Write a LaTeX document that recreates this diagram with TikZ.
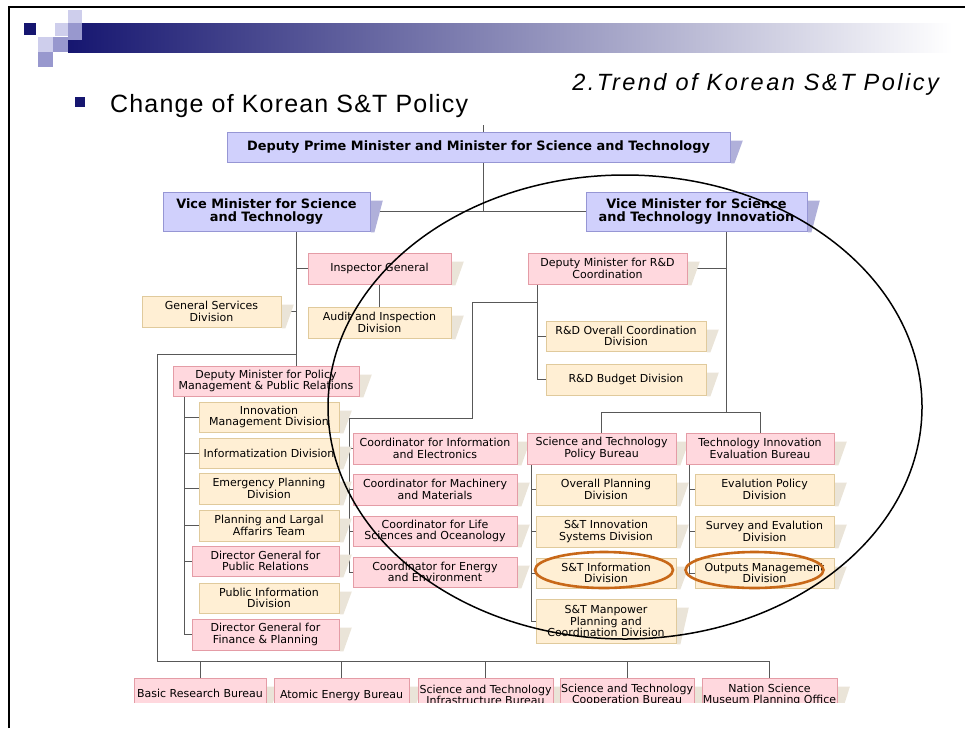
\documentclass[tikz,border=0pt]{standalone}
\usepackage{fontspec}
\setmainfont{Liberation Sans}
\newfontfamily\dejavu{DejaVu Sans}
\newfontfamily\gulim{Liberation Sans}[LetterSpace=4.7]
\newfontfamily\gulimwide{Liberation Sans}[LetterSpace=10.6]
\usetikzlibrary{backgrounds}
\definecolor{orgnavy}{RGB}{22, 22, 112}
\definecolor{orgfade}{RGB}{168, 168, 198}
\definecolor{orglav}{RGB}{206, 206, 236}
\definecolor{orgmid}{RGB}{152, 152, 206}
\definecolor{orgblue}{RGB}{208, 208, 252}
\definecolor{orgblueline}{RGB}{150, 150, 212}
\definecolor{orgblueshadow}{RGB}{176, 176, 218}
\definecolor{orgpink}{RGB}{255, 216, 222}
\definecolor{orgpinkline}{RGB}{228, 156, 166}
\definecolor{orgcream}{RGB}{255, 239, 212}
\definecolor{orgcreamline}{RGB}{224, 202, 156}
\definecolor{orgshadow}{RGB}{234, 228, 216}
\definecolor{orglink}{RGB}{88, 88, 88}
\definecolor{orghilite}{RGB}{200, 104, 24}

\begin{document}
\begin{tikzpicture}[x=1pt,y=-1pt,
  orgbox/.style={draw, line width=0.8pt, inner sep=1pt, align=center,
    font=\dejavu\fontsize{11}{11.5}\selectfont},
  shadowed/.style={append after command={\pgfextra{\fill[#1]
    ([xshift=0.4pt,yshift=-9pt]\tikzlastnode.north east) -- ++(12pt,0pt)
    -- ([xshift=4pt,yshift=-1pt]\tikzlastnode.south east)
    -- ([xshift=0.4pt,yshift=-1pt]\tikzlastnode.south east) -- cycle;}}},
  bluebox/.style={orgbox, fill=orgblue, draw=orgblueline, shadowed=orgblueshadow,
    font=\dejavu\bfseries\fontsize{12.9}{13}\selectfont},
  pinkbox/.style={orgbox, fill=orgpink, draw=orgpinkline, shadowed=orgshadow},
  creambox/.style={orgbox, fill=orgcream, draw=orgcreamline, shadowed=orgshadow},
  sz/.style 2 args={minimum width=#1pt, minimum height=#2pt},
  link/.style={draw=orglink, line width=0.9pt},
  hilite/.style={draw=orghilite, line width=2.6pt}]
\useasboundingbox (0,0) rectangle (965,728);

\shade[left color=orgnavy, middle color=orgfade, right color=white] (68,23) rectangle (952,52);
\fill[orglav] (68,10) rectangle (82,23);
\fill[orglav] (55,23) rectangle (68,36);
\fill[orgmid] (68,23) rectangle (82,40);
\fill[orgnavy] (24,23) rectangle (36,35);
\fill[orglav] (38,37) rectangle (53,52);
\fill[orgmid] (53,37) rectangle (68,52);
\fill[orgmid] (38,52) rectangle (53,67);
\draw[line width=2pt] (9,728) -- (9,7) -- (965,7);

\fill[orgnavy] (75,97) rectangle (85,107);
\node[anchor=west, inner sep=0pt, font=\gulim\fontsize{25}{26}\selectfont] (title) at (110,106) {Change of Korean S\&T Policy};
\node[anchor=east, inner sep=0pt, font=\gulimwide\itshape\fontsize{23.5}{24}\selectfont] (trend) at (939,84) {2.Trend of Korean S\&T Policy};

\node[bluebox, sz={503}{30}] (dpm) at (478.5,147) {Deputy Prime Minister and Minister for Science and Technology};
\node[bluebox, sz={207}{39}] (vmA) at (266.5,211.5) {Vice Minister for Science\\and Technology};
\node[bluebox, sz={221}{39}] (vmB) at (696.5,211.5) {Vice Minister for Science\\and Technology Innovation};

\node[pinkbox, sz={143}{31}] (ig) at (379.5,268.5) {Inspector General};
\node[creambox, sz={143}{31}] (audit) at (379.5,322.5) {Audit and Inspection\\Division};
\node[creambox, sz={139}{31}] (gsd) at (211.5,311.5) {General Services\\Division};
\node[pinkbox, sz={159}{31}] (dmRD) at (607.5,268.5) {Deputy Minister for R\&D\\Coordination};
\node[creambox, sz={160}{30}] (rdAll) at (626,336) {R\&D Overall Coordination\\Division};
\node[creambox, sz={160}{31}] (rdBud) at (626,379.5) {R\&D Budget Division};
\node[pinkbox, sz={186}{30}] (dmP) at (266,381) {Deputy Minister for Policy\\Management \& Public Relations};

\node[creambox, sz={140}{30}] (innov) at (269,417) {Innovation\\Management Division};
\node[creambox, sz={140}{30}] (inform) at (269,453) {Informatization Division};
\node[creambox, sz={140}{31}] (emerg) at (269,488.5) {Emergency Planning\\Division};
\node[creambox, sz={140}{31}] (legal) at (269,525.5) {Planning and Largal\\Affarirs Team};
\node[pinkbox, sz={147}{30}] (dgPR) at (265.5,561) {Director General for\\Public Relations};
\node[creambox, sz={140}{30}] (pubInfo) at (269,598) {Public Information\\Division};
\node[pinkbox, sz={147}{31}] (dgFin) at (265.5,634.5) {Director General for\\Finance \& Planning};

\node[pinkbox, sz={164}{31}] (coInfo) at (435,448.5) {Coordinator for Information\\and Electronics};
\node[pinkbox, sz={164}{31}] (coMach) at (435,489.5) {Coordinator for Machinery\\and Materials};
\node[pinkbox, sz={164}{30}] (coLife) at (435,531) {Coordinator for Life\\Sciences and Oceanology};
\node[pinkbox, sz={164}{30}] (coEner) at (435,572) {Coordinator for Energy\\and Environment};

\node[pinkbox, sz={149}{31}] (stpb) at (601.5,448.5) {Science and Technology\\Policy Bureau};
\node[pinkbox, sz={148}{31}] (tieb) at (760,448.5) {Technology Innovation\\Evaluation Bureau};
\node[creambox, sz={140}{31}] (ovPlan) at (606,489.5) {Overall Planning\\Division};
\node[creambox, sz={140}{31}] (inSys) at (606,531.5) {S\&T Innovation\\Systems Division};
\node[creambox, sz={140}{30}] (stInfo) at (606,573) {S\&T Information\\Division};
\node[creambox, sz={140}{44}] (manp) at (606,621) {S\&T Manpower\\Planning and\\Coordination Division};
\node[creambox, sz={139}{31}] (evPol) at (764.5,489.5) {Evalution Policy\\Division};
\node[creambox, sz={139}{31}] (survey) at (764.5,531.5) {Survey and Evalution\\Division};
\node[creambox, sz={139}{30}] (outputs) at (764.5,573) {Outputs Management\\Division};

\begin{scope}
\clip (0,0) rectangle (965,702);
\node[pinkbox, sz={132}{30}] (basic) at (200,693) {Basic Research Bureau};
\node[pinkbox, sz={135}{34}] (atomic) at (341.5,695) {Atomic Energy Bureau};
\node[pinkbox, sz={135}{34}] (infra) at (485.5,695) {Science and Technology\\Infrastructure Bureau};
\node[pinkbox, sz={134}{34}] (coop) at (627,695) {Science and Technology\\Cooperation Bureau};
\node[pinkbox, sz={135}{34}] (museum) at (769.5,695) {Nation Science\\Museum Planning Office};
\end{scope}

\coordinate (topTick) at (483,125);
\coordinate (spA) at (296,0);
\coordinate (spB) at (726,0);
\coordinate (spP) at (184,0);
\coordinate (rdS) at (537,0);
\coordinate (coS) at (349,0);
\coordinate (sS) at (531,0);
\coordinate (tS) at (689,0);
\coordinate (bar) at (0,412);
\coordinate (busTL) at (157,354);
\coordinate (busBL) at (157,661);
\coordinate (kneeA) at (472,302);
\coordinate (kneeB) at (472,418);

\begin{pgfonlayer}{background}
\draw[link] (topTick) -- (topTick |- vmA.east);
\draw[link] (vmA.east) -- (vmB.west);
\draw[link] (spA |- vmA.south) -- (spA |- dmP.north);
\draw[link] (spA |- ig.west) -- (ig.west);
\draw[link] (gsd.east) -- (spA |- gsd.east);
\draw[link] (ig.south) -- (audit.north);
\draw[link] (spA |- busTL) -- (busTL) -- (busBL) -- (museum.north |- busBL) -- (museum.north);
\foreach \n in {basic,atomic,infra,coop}
  \draw[link] (\n.north) -- (\n.north |- busBL);
\draw[link] (spB |- vmB.south) -- (spB |- bar);
\draw[link] (stpb.north) |- (tieb.north |- bar) -- (tieb.north);
\draw[link] (dmRD.east) -- (spB |- dmRD.east);
\draw[link] (rdS |- dmRD.south) |- (rdBud.west);
\draw[link] (rdS |- rdAll.west) -- (rdAll.west);
\draw[link] (rdS |- kneeA) -- (kneeA) -- (kneeB) -- (coS |- kneeB) |- (coEner.west);
\foreach \n in {coInfo,coMach,coLife}
  \draw[link] (coS |- \n.west) -- (\n.west);
\draw[link] (spP |- dmP.south) |- (dgFin.west);
\foreach \n in {innov,inform,emerg,legal,dgPR}
  \draw[link] (spP |- \n.west) -- (\n.west);
\draw[link] (sS |- stpb.south) |- (manp.west);
\foreach \n in {ovPlan,inSys,stInfo}
  \draw[link] (sS |- \n.west) -- (\n.west);
\draw[link] (tS |- tieb.south) |- (outputs.west);
\foreach \n in {evPol,survey}
  \draw[link] (tS |- \n.west) -- (\n.west);
\end{pgfonlayer}

\coordinate (focus) at (625,407);
\draw[line width=1.5pt] (focus) ellipse [x radius=297pt, y radius=232pt];
\draw[hilite] ([xshift=-2pt,yshift=3pt]stInfo.center) ellipse [x radius=69pt, y radius=18pt];
\draw[hilite] ([xshift=-10pt,yshift=3pt]outputs.center) ellipse [x radius=69pt, y radius=18pt];
\end{tikzpicture}
\end{document}
